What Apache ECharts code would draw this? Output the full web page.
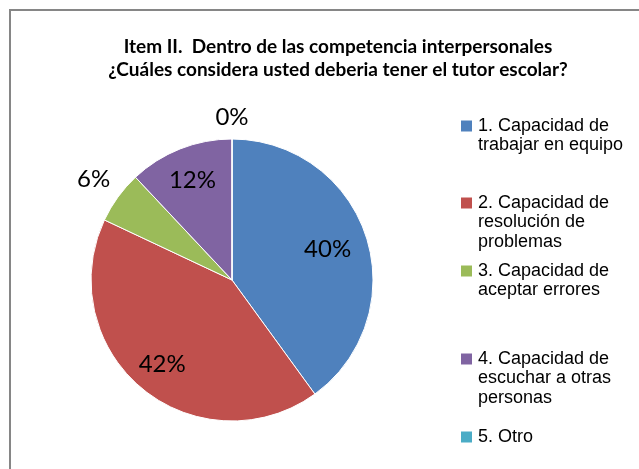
<!DOCTYPE html>
<html>
<head>
<meta charset="utf-8">
<script src="https://cdn.jsdelivr.net/npm/echarts@6/dist/echarts.min.js"></script>
<style>
  html, body { margin: 0; padding: 0; background: #fff; }
  #main { width: 639px; height: 469px; }
</style>
</head>
<body>
<div id="main"></div>
<script>
const categories = [
  '1. Capacidad de\ntrabajar en equipo',
  '2. Capacidad de\nresolución de\nproblemas',
  '3. Capacidad de\naceptar errores',
  '4. Capacidad de\nescuchar a otras\npersonas',
  '5. Otro'
]
const percents = [40, 42, 6, 12, 0]
const titleLines = [
  'Item II.  Dentro de las competencia interpersonales',
  '¿Cuáles considera usted deberia tener el tutor escolar?'
]

const colorList = ['#4F81BD', '#C0504D', '#9BBB59', '#8064A2', '#4BACC6']
// Excel puts each % label at its own distance, these are the label ring radii
const labelRadius = [195, 213, 336, 209, 319]
// icon centre (first line) of each legend entry
const legendY = [126, 203, 271, 359, 437]
const lineH = 19.5

const myChart = echarts.init(document.getElementById('main'))

const center = [232, 280]
const pieData = categories.map((name, i) => ({
  name: name,
  value: percents[i],
  itemStyle: { color: colorList[i] }
}))

// transparent pie that only carries the label of one slice
const labelSeries = (idx) => ({
  type: 'pie',
  center: center,
  radius: [0, labelRadius[idx]],
  startAngle: 90,
  clockwise: true,
  silent: true,
  avoidLabelOverlap: false,
  minShowLabelAngle: 0,
  itemStyle: { color: 'rgba(0,0,0,0)', borderWidth: 0 },
  labelLine: { show: false },
  emphasis: { disabled: true },
  label: {
    position: 'inside',
    formatter: '{c}%',
    fontFamily: 'Lato',
    fontSize: 24,
    color: '#000'
  },
  data: categories.map((name, i) => ({
    name: name,
    value: percents[i],
    label: { show: i === idx }
  }))
})

const legends = categories.map((name, i) => {
  const lines = name.split('\n').length
  return {
    orient: 'vertical',
    left: 459,
    top: legendY[i] - (2 * lines - 1) * lineH / 2,
    padding: 0,
    itemWidth: 13,
    itemHeight: 13,
    icon: 'rect',
    selectedMode: false,
    data: [name],
    // blank lines in front keep the icon level with the first line
    formatter: (n) => ' \n'.repeat(lines - 1) + n,
    textStyle: {
      fontFamily: 'Liberation Sans',
      fontSize: 18,
      lineHeight: lineH,
      color: '#000'
    }
  }
})

const option = {
  animation: false,
  title: {
    text: titleLines.join('\n'),
    left: 333,
    top: 30,
    textAlign: 'center',
    textStyle: {
      fontFamily: 'Lato',
      fontWeight: 'bold',
      fontSize: 19,
      lineHeight: 23,
      color: '#000'
    }
  },
  legend: legends,
  graphic: [
    {
      type: 'rect',
      shape: { x: 10, y: 10, width: 660, height: 500 },
      style: { fill: 'none', stroke: '#868686', lineWidth: 2 },
      silent: true
    }
  ],
  series: [
    {
      type: 'pie',
      center: center,
      radius: [0, 141],
      startAngle: 90,
      clockwise: true,
      label: { show: false },
      labelLine: { show: false },
      itemStyle: { borderColor: '#fff', borderWidth: 1 },
      data: pieData
    }
  ].concat(categories.map((n, i) => labelSeries(i)))
}
myChart.setOption(option)
</script>
</body>
</html>
